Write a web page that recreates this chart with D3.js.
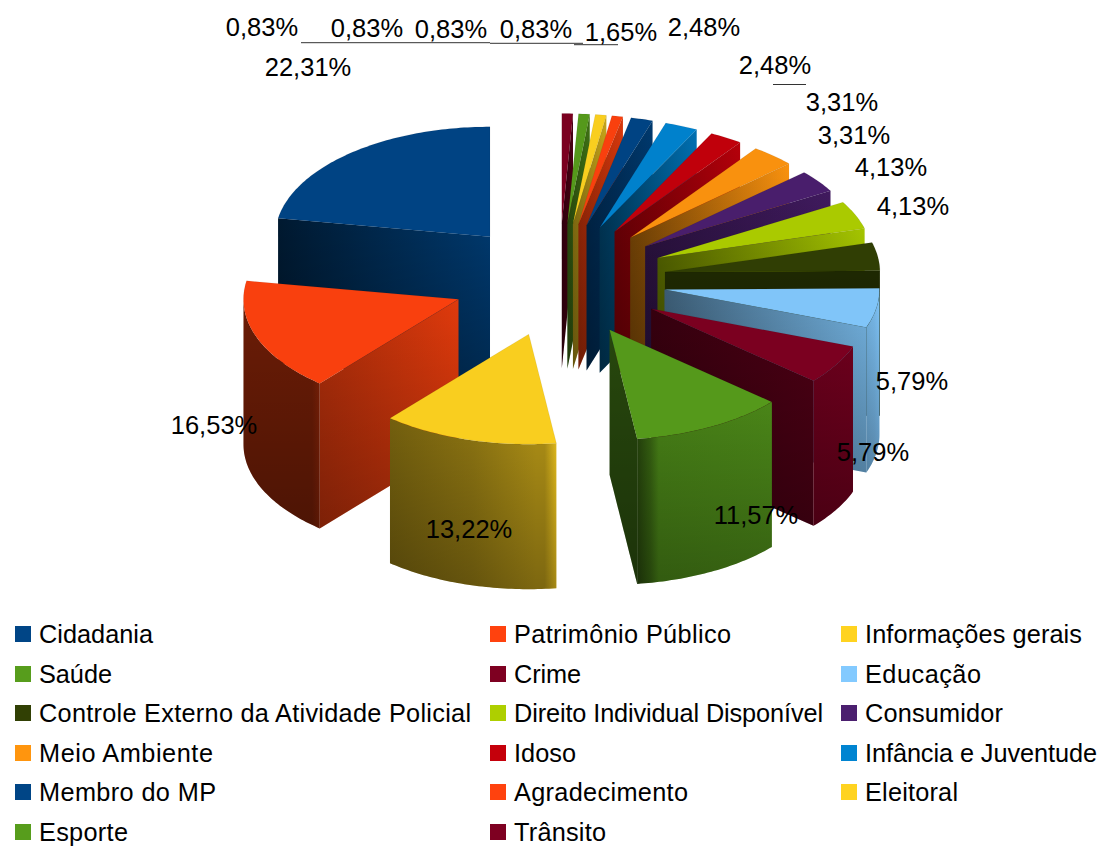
<!DOCTYPE html>
<html>
<head>
<meta charset="utf-8">
<script src="https://cdn.jsdelivr.net/npm/d3@7/dist/d3.min.js"></script>
<style>
html,body{margin:0;padding:0;background:#fff;}
svg{display:block;}
text{font-family:"Liberation Sans",Arial,sans-serif;fill:#000;}
</style>
</head>
<body>
<svg id="chart" width="1104" height="848"></svg>
<script>
// ---- data ----
const categories = ["Cidadania","Patrimônio Público","Informações gerais","Saúde","Crime","Educação",
  "Controle Externo da Atividade Policial","Direito Individual Disponível","Consumidor","Meio Ambiente",
  "Idoso","Infância e Juventude","Membro do MP","Agradecimento","Eleitoral","Esporte","Trânsito"];
const percents = [22.31,16.53,13.22,11.57,5.79,5.79,4.13,4.13,3.31,3.31,2.48,2.48,1.65,0.83,0.83,0.83,0.83];

// ---- styles ----
const palette = ["#004586","#ff420e","#ffd320","#579d1c","#7e0021","#83caff","#314004","#aecf00","#4b1f6f","#ff950e","#c5000b","#0084d1"];
// brightness of the flat side walls: [at centre of pie, at rim]
const wallShade = [[.82,.36],[.88,.68],[.45,.45],[.45,.45],[.42,.6],[.45,.88],[.62,.62],[.45,.95],[.55,.85],[.45,.98],[.55,.92],[.42,.85],[.55,.82],[.6,.85],[.55,.78],[.5,.72],[.42,.6]];
// brightness across the rim wall, left to right: [offset, shade]
const rimStops = {
  1:[[0,.42],[.9,.42],[1,.5]],
  2:[[0,.45],[.5,.55],[.88,.68],[.93,.68],[1,.9]],
  3:[[0,.42],[.1,.62],[.16,.8],[1,.85]],
  4:[[0,.82],[1,.85]],
  5:[[0,.88],[.6,.92],[1,.98]],
  6:[[0,.65],[1,.65]]
};
// label anchors in the page (x centre, y centre)
const labelPos = [[308,67],[214,425],[469,529],[756,515],[873,452],[912,381],[913,206],[891,167],[854,135],[842,102],[775,65],[704,27],[621,32],[536,29],[451,29],[367,28],[262,27]];
const leaders = [[301,405,42.7],[405,490,42.7],[490,583,43.3],[574,618,44.7],[773,806,84.5]];
const legendColsX = [15,490,841];
const legendRowsY = [634,674,713,753,792,832];
const legendWidths = [114,217,217,73,67,116,432,309,138,174,62,232,177,174,93,89,92];

// ---- geometry ----
const cx=559, cy=280, rx=215, ry=110, explodeX=107/215, explodeY=56.5/110, depth=145;
const svg=d3.select("#chart"), defs=svg.append("defs");
const sx=d3.scaleLinear().domain([-1,1]).range([-rx,rx]);
const sy=d3.scaleLinear().domain([-1,1]).range([-ry,ry]);
const px=t=>sx(-Math.sin(t)), py=t=>sy(-Math.cos(t));
const line=d3.line();
const pie=d3.pie().sort(null).value(d=>d)(percents);
let gid=0;
function grad(x1,x2,y1,y2,stops,bbox){
  const id="g"+(gid++);
  const g=defs.append("linearGradient").attr("id",id)
    .attr("gradientUnits",bbox?"objectBoundingBox":"userSpaceOnUse")
    .attr("x1",x1).attr("x2",x2).attr("y1",y1).attr("y2",y2);
  stops.forEach(s=>{const st=g.append("stop").attr("offset",s[0]).attr("stop-color",s[1]);
    if(s[2]!==undefined)st.attr("stop-opacity",s[2]);});
  return `url(#${id})`;
}
const shadow=grad(0,0,0,1,[[0,"#000",0],[1,"#000",.28]],true);
const mul=(c,k)=>{const r=d3.rgb(c);return d3.rgb(r.r*k,r.g*k,r.b*k).formatHex();};
const slices=pie.map((p,i)=>{
  const mid=(p.startAngle+p.endAngle)/2;
  return {i,t1:p.startAngle,t2:p.endAngle,mid,ax:cx+px(mid)*explodeX,ay:cy+py(mid)*explodeY,color:palette[i%palette.length]};
}).sort((a,b)=>d3.ascending(a.ay,b.ay));

const gPie=svg.append("g");
function face(d,fill,over){
  gPie.append("path").attr("d",d).attr("fill",fill);
  if(over)gPie.append("path").attr("d",d).attr("fill",shadow);
}
function arcPts(s,a,b,dy){
  const n=Math.max(2,Math.ceil(Math.abs(b-a)*180/Math.PI));
  return d3.range(n+1).map(k=>{const t=a+(b-a)*k/n;return [s.ax+px(t),s.ay+py(t)+dy];});
}
function wall(s,t){
  const ex=s.ax+px(t), ey=s.ay+py(t);
  const sh=wallShade[s.i];
  const fill=grad(s.ax,ex,0,0,[[0,mul(s.color,sh[0])],[1,mul(s.color,sh[1])]]);
  face(line([[s.ax,s.ay],[ex,ey],[ex,ey+depth],[s.ax,s.ay+depth]])+"Z",fill,true);
}
slices.forEach(s=>{
  if(Math.sin(s.t1)<-1e-6) wall(s,s.t1);
  if(Math.sin(s.t2)>1e-6) wall(s,s.t2);
  // rim wall: the part of the arc that faces the viewer
  const a=Math.max(s.t1,Math.PI/2), b=Math.min(s.t2,Math.PI*1.5);
  if(b>a){
    const top=arcPts(s,a,b,0), bot=arcPts(s,b,a,depth);
    const xs=top.map(p=>p[0]);
    const st=(rimStops[s.i]||[[0,.7],[1,.7]]).map(q=>[q[0],mul(s.color,q[1])]);
    face(line(top.concat(bot))+"Z",grad(d3.min(xs),d3.max(xs),0,0,st),true);
  }
  // top face
  gPie.append("path").attr("d",line([[s.ax,s.ay]].concat(arcPts(s,s.t1,s.t2,0)))+"Z")
    .attr("fill",mul(s.color,.975)).attr("stroke","#000").attr("stroke-opacity",.12).attr("stroke-width",.5);
});

// ---- leaders and value labels ----
const fmt=v=>v.toFixed(2).replace(".",",")+"%";
svg.append("g").selectAll("line").data(leaders).join("line")
  .attr("x1",d=>d[0]).attr("x2",d=>d[1]).attr("y1",d=>d[2]).attr("y2",d=>d[2])
  .attr("stroke","#333").attr("stroke-width",1);
svg.append("g").selectAll("text").data(percents).join("text")
  .attr("x",(d,i)=>labelPos[i][0]).attr("y",(d,i)=>labelPos[i][1]).attr("dy","0.36em")
  .attr("text-anchor","middle").attr("font-size",25.5).text(fmt);

// ---- legend ----
const lg=svg.append("g").selectAll("g").data(categories).join("g")
  .attr("transform",(d,i)=>`translate(${legendColsX[i%3]},${legendRowsY[Math.floor(i/3)]})`);
lg.append("rect").attr("x",0).attr("y",-8).attr("width",16).attr("height",16)
  .attr("fill",(d,i)=>palette[i%palette.length]);
lg.append("text").attr("x",24).attr("dy","0.36em").attr("font-size",25.3)
  .attr("textLength",(d,i)=>legendWidths[i]).attr("lengthAdjust","spacing").text(d=>d);
</script>
</body>
</html>
